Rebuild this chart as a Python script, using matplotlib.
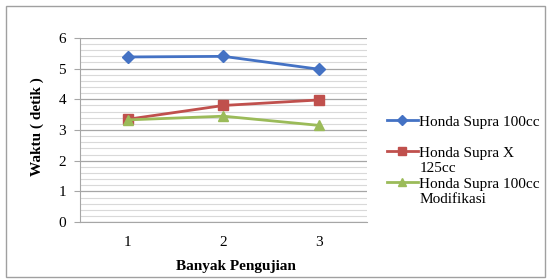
import numpy as np
import matplotlib.pyplot as plt
from matplotlib.lines import Line2D
from matplotlib.patches import Rectangle

# data
pengujian = ['1', '2', '3']
supra_100 = [5.38, 5.40, 4.98]
supra_x_125 = [3.35, 3.80, 3.98]
supra_modif = [3.33, 3.45, 3.15]
# legend text, one list item per printed line ('' = no series on that line)
legend_lines = ['Honda Supra 100cc', '', 'Honda Supra X', '125cc', 'Honda Supra 100cc', 'Modifikasi']

plt.rcParams['font.family'] = ['Liberation Serif', 'DejaVu Serif']

fig = plt.figure(figsize=(5.47, 2.79), dpi=100)
fig.patches.append(Rectangle((0.011, 0.007), 0.985, 0.97, transform=fig.transFigure,
                             fill=False, edgecolor='#a0a0a0', linewidth=1.0))
ax = fig.add_axes([0.146, 0.204, 0.525, 0.66])

x = np.arange(len(pengujian)) + 0.5
l1, = ax.plot(x, supra_100, color='#4472C4', marker='D', markersize=6, linewidth=2)
l2, = ax.plot(x, supra_x_125, color='#C0504D', marker='s', markersize=7, linewidth=2)
l3, = ax.plot(x, supra_modif, color='#9BBB59', marker='^', markersize=7, linewidth=2)

ax.set_xlim(0, 3)
ax.set_ylim(0, 6)
ax.set_xticks(x)
ax.set_xticklabels(pengujian)
ax.set_yticks(np.arange(0, 7, 1))
ax.set_yticks(np.arange(0, 6.01, 0.2), minor=True)
ax.grid(which='major', axis='y', color='#a6a6a6', linewidth=0.9)
ax.grid(which='minor', axis='y', color='#d9d9d9', linewidth=0.8)
ax.set_axisbelow(True)
ax.tick_params(axis='x', length=0, labelsize=11, pad=10)
ax.tick_params(axis='y', which='major', length=4, color='#a6a6a6', labelsize=11, pad=6)
ax.tick_params(axis='y', which='minor', length=0)
for s in ['top', 'right']:
    ax.spines[s].set_visible(False)
for s in ['left', 'bottom']:
    ax.spines[s].set_color('#a6a6a6')

ax.set_xlabel('Banyak Pengujian', fontsize=11, fontweight='bold', labelpad=8, x=0.545)
ax.set_ylabel('Waktu ( detik )', fontsize=11, fontweight='bold', labelpad=10, y=0.52)

blank = Line2D([], [], linestyle='none')
handles = [l1, blank, l2, blank, l3, blank]
ax.legend(handles, legend_lines, loc='center left', bbox_to_anchor=(1.07, 0.334),
          frameon=False, fontsize=11, handlelength=2.0, handletextpad=0.1,
          labelspacing=0.12, borderaxespad=0, borderpad=0, markerscale=0.8)

fig.savefig('out.png', dpi=100)
